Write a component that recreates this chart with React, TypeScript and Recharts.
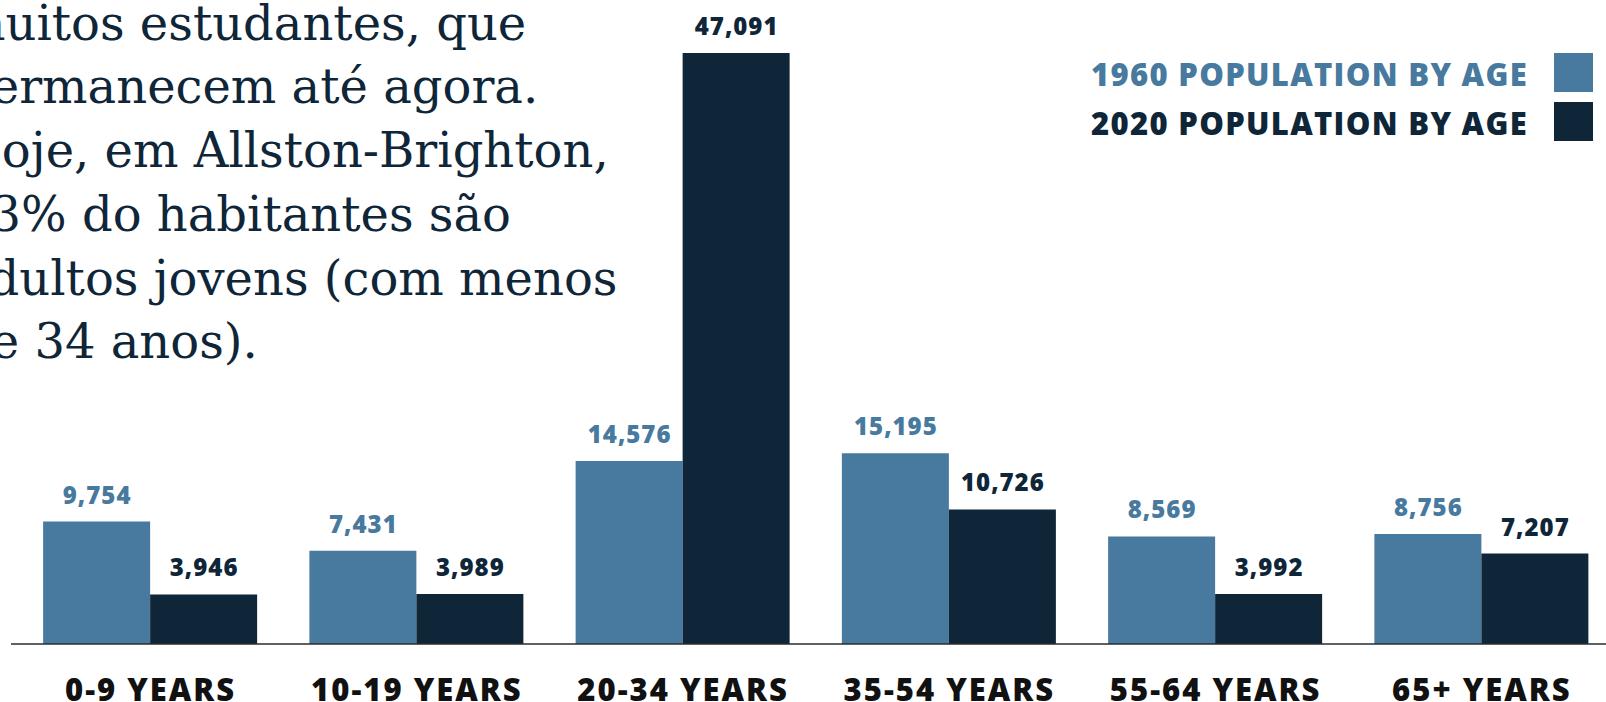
import { BarChart, Bar, XAxis, YAxis, LabelList } from "recharts"

const ageGroups = ["0-9 YEARS", "10-19 YEARS", "20-34 YEARS", "35-54 YEARS", "55-64 YEARS", "65+ YEARS"]
const pop1960 = [9754, 7431, 14576, 15195, 8569, 8756]
const pop2020 = [3946, 3989, 47091, 10726, 3992, 7207]
const seriesNames = ["1960 POPULATION BY AGE", "2020 POPULATION BY AGE"]
const seriesColors = ["#48799e", "#0f2639"]
const noteLines = [
  "muitos estudantes, que",
  "permanecem até agora.",
  "Hoje, em Allston-Brighton,",
  "63% do habitantes são",
  "adultos jovens (com menos",
  "de 34 anos).",
]

const data = ageGroups.map((age, i) => ({ age, y1960: pop1960[i], y2020: pop2020[i] }))

const sans = "'Open Sans', sans-serif"

function AgeTick({ x, y, payload }: any) {
  return (
    <text
      x={Number(x) + 1}
      y={Number(y) + 57}
      textAnchor="middle"
      fill="#111111"
      fontSize={31}
      fontWeight={800}
      letterSpacing={2}
      fontFamily={sans}
    >
      {payload.value}
    </text>
  )
}

const valueLabel = (color: string) => (props: any) => {
  const { x, y, width, value } = props
  return (
    <text
      x={Number(x) + Number(width) / 2 + 0.5}
      y={Number(y) - 18}
      textAnchor="middle"
      fill={color}
      fontSize={24}
      fontWeight={800}
      letterSpacing={1}
      fontFamily={sans}
    >
      {Number(value).toLocaleString("en-US")}
    </text>
  )
}

export default function App() {
  return (
    <div
      style={{
        position: "absolute",
        left: 0,
        top: 0,
        width: 1606,
        height: 702,
        overflow: "hidden",
        background: "#ffffff",
      }}
    >
      <BarChart
        width={1614}
        height={702}
        data={data}
        margin={{ top: 53, right: 0, left: 11, bottom: 0 }}
        barCategoryGap="10%"
        barGap={0}
      >
        <XAxis
          dataKey="age"
          height={58}
          padding={{ left: 5.5, right: 0 }}
          tickLine={false}
          tickSize={0}
          tickMargin={0}
          axisLine={{ stroke: "#2b2b2b", strokeWidth: 1.5 }}
          tick={<AgeTick />}
          interval={0}
        />
        <YAxis hide domain={[0, "dataMax"]} />
        <Bar dataKey="y1960" name={seriesNames[0]} fill={seriesColors[0]} isAnimationActive={false}>
          <LabelList dataKey="y1960" content={valueLabel(seriesColors[0])} />
        </Bar>
        <Bar dataKey="y2020" name={seriesNames[1]} fill={seriesColors[1]} isAnimationActive={false}>
          <LabelList dataKey="y2020" content={valueLabel(seriesColors[1])} />
        </Bar>
      </BarChart>

      {/* paragraph text that runs off the left edge */}
      <div
        style={{
          position: "absolute",
          left: -40,
          top: -8.5,
          fontFamily: "'DejaVu Serif', serif",
          fontSize: 48,
          lineHeight: "63.8px",
          color: "#0f2639",
          whiteSpace: "nowrap",
        }}
      >
        {noteLines.map((line) => (
          <div key={line}>{line}</div>
        ))}
      </div>

      {seriesNames.map((name, i) => (
        <div
          key={name}
          style={{
            position: "absolute",
            right: 13,
            top: 53 + i * 49,
            height: 39,
            display: "flex",
            alignItems: "center",
          }}
        >
          <span
            style={{
              fontFamily: sans,
              fontSize: 31,
              fontWeight: 800,
              letterSpacing: 1.3,
              lineHeight: "39px",
              color: seriesColors[i],
              marginRight: 26,
              position: "relative",
              top: 2,
            }}
          >
            {name}
          </span>
          <span style={{ width: 39, height: 39, background: seriesColors[i] }} />
        </div>
      ))}
    </div>
  )
}
